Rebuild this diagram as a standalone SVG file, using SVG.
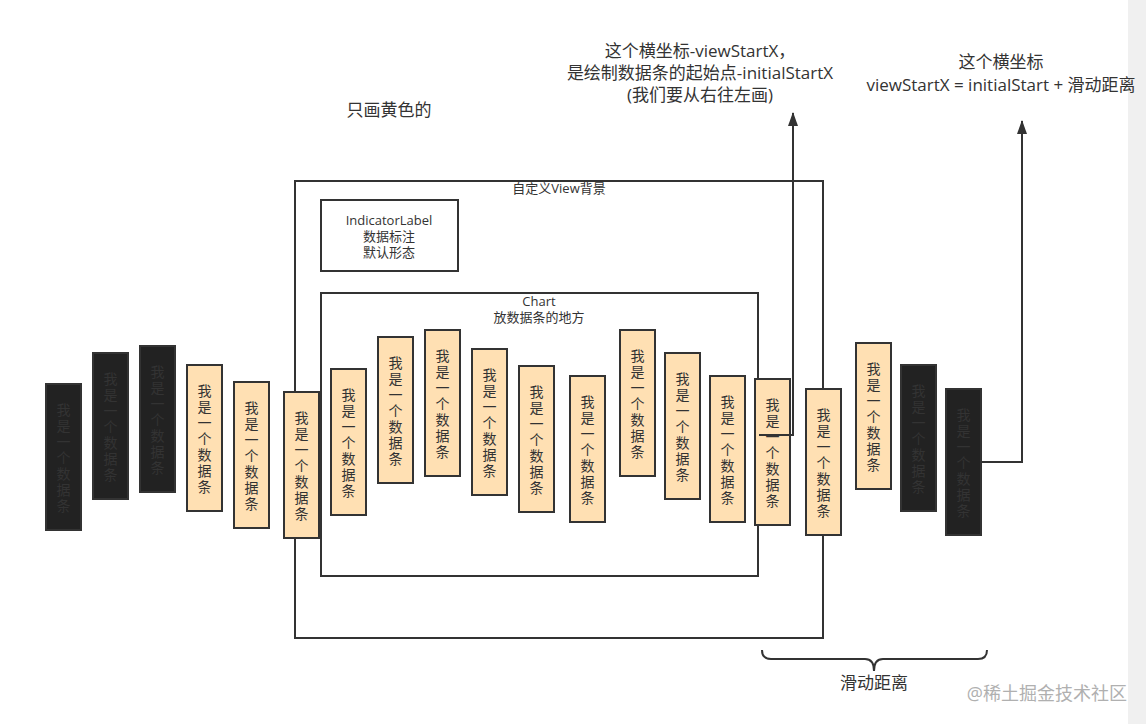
<svg xmlns="http://www.w3.org/2000/svg" xmlns:xlink="http://www.w3.org/1999/xlink" width="1146" height="724" viewBox="0 0 1146 724">
<style>
text{font-family:"Open Sans","Noto Sans CJK SC",sans-serif;fill:#333}
.box{fill:none;stroke:#333;stroke-width:2}
.bar{fill:#ffe0b3;stroke:#333;stroke-width:2}
.dbar{fill:#222;stroke:#333;stroke-width:2}
.bt{font-size:14px;text-anchor:middle;dominant-baseline:central;font-family:"Noto Sans CJK SC",sans-serif}
.dt{fill:#383838}
.big{font-size:17px;text-anchor:middle}
.sm{font-size:13px;text-anchor:middle}
.conn{fill:none;stroke:#333;stroke-width:2}
</style>
<defs>
<marker id="arr" viewBox="0 0 14 10" refX="13" refY="5" markerWidth="7" markerHeight="5" markerUnits="strokeWidth" orient="auto">
<path d="M0,0 L14,5 L0,10 Z" fill="#333"/>
</marker>
<text id="lbl" class="bt"><tspan x="0" y="-48">我</tspan><tspan x="0" y="-32">是</tspan><tspan x="0" y="-16">一</tspan><tspan x="0" y="0">个</tspan><tspan x="0" y="16">数</tspan><tspan x="0" y="32">据</tspan><tspan x="0" y="48">条</tspan></text>
</defs>
<rect x="0" y="0" width="1146" height="724" fill="#fff"/>
<rect x="1128" y="0" width="18" height="724" fill="#f0f0f0"/>

<g id="title-left">
<text class="big" x="700" y="57">这个横坐标-viewStartX，</text>
<text class="big" x="700" y="79">是绘制数据条的起始点-initialStartX</text>
<text class="big" x="700" y="101">(我们要从右往左画)</text>
</g>
<g id="title-right">
<text class="big" x="1001" y="68">这个横坐标</text>
<text class="big" x="1001" y="91">viewStartX = initialStart + 滑动距离</text>
</g>
<g id="note"><text class="big" x="389" y="116">只画黄色的</text></g>

<g id="view-bg">
<rect class="box" x="295" y="181" width="528" height="457"/>
<text class="sm" x="559" y="193">自定义View背景</text>
</g>
<g id="indicator">
<rect class="box" x="321" y="200" width="137" height="71"/>
<text class="sm" x="389" y="225">IndicatorLabel</text>
<text class="sm" x="389" y="241">数据标注</text>
<text class="sm" x="389" y="257">默认形态</text>
</g>
<g id="chart">
<rect class="box" x="321" y="293" width="437" height="283"/>
<text class="sm" x="539" y="306">Chart</text>
<text class="sm" x="539" y="322">放数据条的地方</text>
</g>

<g id="bar1"><rect class="dbar" x="46" y="384" width="35" height="146"/><use xlink:href="#lbl" class="dt" x="63.5" y="457"/></g>
<g id="bar2"><rect class="dbar" x="93" y="353" width="35" height="146"/><use xlink:href="#lbl" class="dt" x="110.5" y="426"/></g>
<g id="bar3"><rect class="dbar" x="140" y="346" width="35" height="146"/><use xlink:href="#lbl" class="dt" x="157.5" y="419"/></g>
<g id="bar4"><rect class="bar" x="187" y="365" width="35" height="146"/><use xlink:href="#lbl" x="204.5" y="438"/></g>
<g id="bar5"><rect class="bar" x="234" y="382" width="35" height="146"/><use xlink:href="#lbl" x="251.5" y="455"/></g>
<g id="bar6"><rect class="bar" x="284" y="392" width="35" height="146"/><use xlink:href="#lbl" x="301.5" y="465"/></g>
<g id="bar7"><rect class="bar" x="331" y="369" width="35" height="146"/><use xlink:href="#lbl" x="348.5" y="442"/></g>
<g id="bar8"><rect class="bar" x="378" y="337" width="35" height="146"/><use xlink:href="#lbl" x="395.5" y="410"/></g>
<g id="bar9"><rect class="bar" x="425" y="330" width="35" height="146"/><use xlink:href="#lbl" x="442.5" y="403"/></g>
<g id="bar10"><rect class="bar" x="472" y="349" width="35" height="146"/><use xlink:href="#lbl" x="489.5" y="422"/></g>
<g id="bar11"><rect class="bar" x="519" y="366" width="35" height="146"/><use xlink:href="#lbl" x="536.5" y="439"/></g>
<g id="bar12"><rect class="bar" x="570" y="376" width="35" height="146"/><use xlink:href="#lbl" x="587.5" y="449"/></g>
<g id="bar13"><rect class="bar" x="620" y="330" width="35" height="146"/><use xlink:href="#lbl" x="637.5" y="403"/></g>
<g id="bar14"><rect class="bar" x="665" y="353" width="35" height="146"/><use xlink:href="#lbl" x="682.5" y="426"/></g>
<g id="bar15"><rect class="bar" x="710" y="376" width="35" height="146"/><use xlink:href="#lbl" x="727.5" y="449"/></g>
<g id="bar16"><rect class="bar" x="755" y="379" width="35" height="146"/><use xlink:href="#lbl" x="772.5" y="452"/></g>
<g id="bar17"><rect class="bar" x="806" y="389" width="35" height="146"/><use xlink:href="#lbl" x="823.5" y="462"/></g>
<g id="bar18"><rect class="bar" x="856" y="343" width="35" height="146"/><use xlink:href="#lbl" x="873.5" y="416"/></g>
<g id="bar19"><rect class="dbar" x="901" y="365" width="35" height="146"/><use xlink:href="#lbl" class="dt" x="918.5" y="438"/></g>
<g id="bar20"><rect class="dbar" x="946" y="389" width="35" height="146"/><use xlink:href="#lbl" class="dt" x="963.5" y="462"/></g>

<g id="connectors">
<path class="conn" d="M759,435 H793 V113" marker-end="url(#arr)"/>
<path class="conn" d="M981,462 H1022 V121" marker-end="url(#arr)"/>
<path class="conn" d="M762,650 Q762,659 771,659 H865 Q874,659 874,671 Q874,659 883,659 H978 Q987,659 987,650"/>
</g>
<g id="brace-label"><text class="big" x="874" y="689">滑动距离</text></g>
<text x="1127" y="700" style="font-size:18px;text-anchor:end;fill:#b0b0b0">@稀土掘金技术社区</text>
</svg>
